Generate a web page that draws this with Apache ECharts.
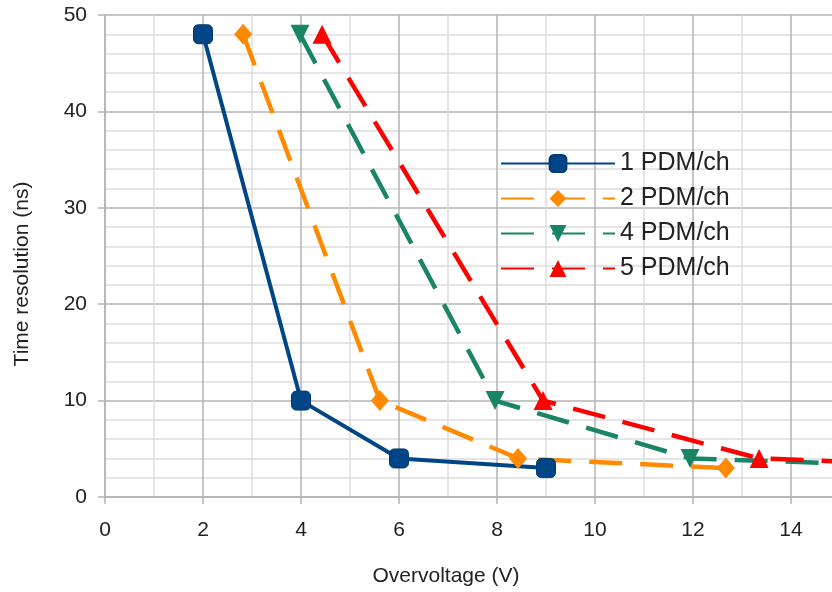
<!DOCTYPE html>
<html>
<head>
<meta charset="utf-8">
<script src="https://cdn.jsdelivr.net/npm/echarts@6/dist/echarts.min.js"></script>
<style>html,body{margin:0;padding:0;background:#fff;overflow:hidden;width:832px;height:592px}#c{width:832px;height:592px}</style>
</head>
<body>
<div id="c"></div>
<script>
const seriesNames = ['1 PDM/ch', '2 PDM/ch', '4 PDM/ch', '5 PDM/ch'];
const pdm1X = [2, 4, 6, 9];
const pdm1Y = [48, 10, 4, 3];
const pdm2X = [2.82, 5.61, 8.43, 12.67];
const pdm2Y = [48, 10, 4, 3];
const pdm4X = [3.98, 7.96, 11.94, 15.5];
const pdm4Y = [48, 10, 4, 3.4];
const pdm5X = [4.43, 8.94, 13.35, 16];
const pdm5Y = [48, 10, 4, 3.5];
const xTicks = [0, 2, 4, 6, 8, 10, 12, 14, 16];
const yTicks = [0, 10, 20, 30, 40, 50];

const zip = (xs, ys) => xs.map((x, i) => [x, ys[i]]);
const FONT = 'Liberation Sans';

const chart = echarts.init(document.getElementById('c'), null, {renderer: 'canvas'});
chart.setOption({
  animation: false,
  backgroundColor: '#ffffff',
  grid: {left: 105, top: 15, width: 784, bottom: 95, containLabel: false, outerBoundsMode: 'none'},
  legend: {
    left: 500, top: 151, orient: 'vertical', padding: 0,
    itemWidth: 114, itemHeight: 21, itemGap: 10,
    textStyle: {fontFamily: FONT, fontSize: 25, color: '#222'},
    data: seriesNames
  },
  xAxis: {
    type: 'value', min: xTicks[0], max: xTicks[xTicks.length - 1], interval: 2,
    name: 'Overvoltage (V)', nameLocation: 'middle', nameGap: 69,
    nameTextStyle: {fontFamily: FONT, fontSize: 21, color: '#222', padding: [0, 102, 0, 0]},
    axisLine: {show: true, onZero: false, lineStyle: {color: '#b3b3b3', width: 1.5}},
    axisTick: {show: true, length: 7, lineStyle: {color: '#b3b3b3', width: 1.5}},
    axisLabel: {fontFamily: FONT, fontSize: 21, color: '#222', margin: 23},
    splitLine: {show: true, lineStyle: {color: '#b3b3b3', width: 1.5}},
    minorTick: {show: false, splitNumber: 2},
    minorSplitLine: {show: true, lineStyle: {color: '#dddddd', width: 1.5}}
  },
  yAxis: {
    type: 'value', min: yTicks[0], max: yTicks[yTicks.length - 1], interval: 10,
    name: 'Time resolution (ns)', nameLocation: 'middle', nameGap: 72, nameRotate: 90,
    nameTextStyle: {fontFamily: FONT, fontSize: 21, color: '#222', padding: [0, 36, 0, 0]},
    axisLine: {show: true, onZero: false, lineStyle: {color: '#b3b3b3', width: 1.5}},
    axisTick: {show: true, length: 7, lineStyle: {color: '#b3b3b3', width: 1.5}},
    axisLabel: {fontFamily: FONT, fontSize: 21, color: '#222', margin: 18},
    splitLine: {show: true, lineStyle: {color: '#b3b3b3', width: 1.5}},
    minorTick: {show: false, splitNumber: 5},
    minorSplitLine: {show: true, lineStyle: {color: '#dddddd', width: 1.5}}
  },
  series: [
    {
      name: seriesNames[0], type: 'line', data: zip(pdm1X, pdm1Y),
      symbol: 'roundRect', symbolSize: 19, color: '#004586',
      lineStyle: {width: 4, color: '#004586'},
      itemStyle: {color: '#004586', borderColor: '#003a70', borderWidth: 1}
    },
    {
      name: seriesNames[1], type: 'line', data: zip(pdm2X, pdm2Y),
      symbol: 'diamond', symbolSize: [18, 21], color: '#ff8a00',
      lineStyle: {width: 4.5, color: '#ff8a00', type: [33, 18]},
      itemStyle: {color: '#ff8a00'}
    },
    {
      name: seriesNames[2], type: 'line', data: zip(pdm4X, pdm4Y),
      symbol: 'triangle', symbolRotate: 180, symbolSize: 19, color: '#1a8566',
      lineStyle: {width: 4.5, color: '#1a8566', type: [33, 18]},
      itemStyle: {color: '#1a8566'}
    },
    {
      name: seriesNames[3], type: 'line', data: zip(pdm5X, pdm5Y),
      symbol: 'triangle', symbolSize: 19, color: '#ff0000',
      lineStyle: {width: 4.5, color: '#ff0000', type: [33, 18]},
      itemStyle: {color: '#ff0000'}
    }
  ]
});
</script>
</body>
</html>
